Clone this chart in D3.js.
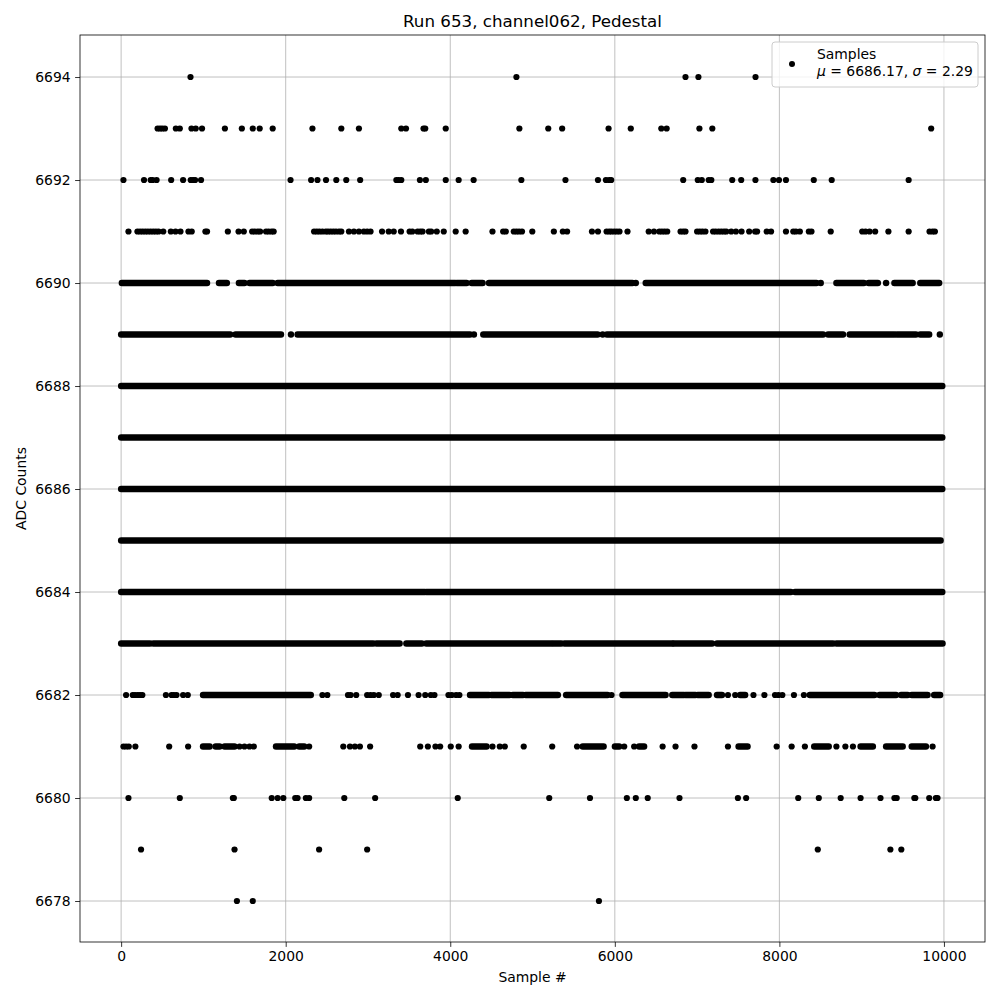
<!DOCTYPE html>
<html>
<head>
<meta charset="utf-8">
<script src="https://cdn.jsdelivr.net/npm/d3@7"></script>
<style>
  body { margin: 0; background: #fff; }
  text { font-family: "DejaVu Sans", sans-serif; fill: #000; }
</style>
</head>
<body>
<script>
// values
const xTicks = [0, 2000, 4000, 6000, 8000, 10000];
const yTicks = [6678, 6680, 6682, 6684, 6686, 6688, 6690, 6692, 6694];

// isolated samples per ADC level (sample #)
const dots6694 = [843, 4804, 6859, 7016, 7710];
const dots6693 = [443, 472, 500, 532, 665, 713, 855, 907, 983, 1261, 1467, 1600, 1684, 1842, 2325,
  2676, 2890, 3405, 3462, 3675, 3696, 3945, 4840, 5191, 5360, 5924, 6194, 6565, 6630, 7028, 7185, 9845];
const dots6692 = [28, 278, 359, 383, 431, 608, 753, 846, 874, 899, 971, 2059, 2309, 2386, 2490,
  2615, 2736, 2905, 3345, 3373, 3405, 3631, 3703, 3945, 4102, 4284, 4864,
  5400, 5795, 5892, 5932, 5956, 6831, 7008, 7057, 7141, 7173, 7427, 7536, 7709,
  7927, 7995, 8080, 8418, 8636, 9571];
const dots6691 = [89, 198, 230, 262, 294, 326, 359, 391, 423, 455, 512, 604, 661, 721, 818, 858, 1024, 1044,
  1297, 1427, 1491, 1592, 1624, 1660, 1689, 1761, 1793, 1829, 1854, 2345, 2378, 2410, 2446, 2487,
  2515, 2547, 2579, 2611, 2648, 2676, 2769, 2829, 2890, 2950, 2990, 3031, 3171, 3252, 3313, 3401,
  3506, 3539, 3603, 3635, 3663, 3740, 3768, 3836, 3921, 4066, 4187, 4513, 4643, 4675, 4772, 4804,
  4836, 4872, 4997, 5259, 5368, 5420, 5722, 5795, 5900, 5932, 5960, 5993, 6025, 6057, 6154, 6412,
  6476, 6541, 6573, 6605, 6637, 6799, 6831, 6859, 7000, 7033, 7065, 7101, 7194, 7226, 7262, 7294,
  7327, 7355, 7415, 7472, 7540, 7633, 7705, 7729, 7846, 7899, 8080, 8169, 8201, 8249, 8358, 8390,
  8624, 9007, 9047, 9096, 9164, 9325, 9571, 9825, 9862, 9890];
const dots6682 = [60, 141, 169, 202, 230, 258, 544, 613, 641, 673, 753, 810, 2446, 2506,
  2757, 2789, 2857, 2990, 3031, 3071, 3131, 3305, 3361, 3486, 3615, 3696, 3764, 3808, 3978, 4018,
  4071, 4111, 5960, 7375, 7463, 7685, 7818, 7947, 7988, 8036, 8177, 8298];
const dots6681 = [28, 60, 93, 173, 584, 814, 1439, 1499, 1560, 1612, 2285, 2700, 2781, 2841, 2902,
  3026, 3635, 3728, 3820, 3877, 4006, 4102, 4513, 4602, 4663, 4893, 5239, 5541, 6114, 6235, 6581,
  6738, 6968, 7375, 7967, 8149, 8310, 8693, 8802, 8894, 9862];
const dots6680 = [89, 713, 1358, 1370, 1830, 1902, 1971, 2116, 2144, 2245, 2285, 2712, 3087, 4091,
  5203, 5698, 6146, 6255, 6400, 6786, 7496, 7596, 8229, 8479, 8745, 8987, 9229, 9398, 9426,
  9640, 9652, 9821, 9902, 9922];
const dots6679 = [242, 1378, 2406, 2990, 8467, 9349, 9482];
const dots6678 = [1407, 1600, 5807];

// stretches where samples sit so close they merge into a band [first, last]
const runs6690 = [[8, 1044], [1189, 1285], [1431, 1499], [1560, 1842], [1902, 4058], [4078, 4199],
  [4260, 4393], [4470, 6214], [6255, 6255], [6375, 8451], [8503, 8503], [8693, 9027], [9084, 9197],
  [9297, 9297], [9398, 9620], [9712, 9942]];
const runs6689 = [[0, 1326], [1390, 1943], [2064, 2064], [2144, 4240], [4288, 4288], [4401, 5791],
  [5852, 5852], [5904, 8531], [8592, 8774], [8854, 9398], [9430, 9660], [9712, 9821], [9950, 9950]];
const runs6688 = [[0, 9980]];
const runs6687 = [[0, 9980]];
const runs6686 = [[0, 9980]];
const runs6685 = [[0, 9960]];
const runs6684 = [[0, 3690], [3710, 8140], [8190, 9980]];
const runs6683 = [[0, 351], [391, 3063], [3103, 3385], [3466, 3655], [3708, 5227], [5255, 5348],
  [5388, 6698], [6718, 7182], [7242, 8652], [8693, 9983]];
const runs6682 = [[995, 2305], [4240, 4470], [4500, 4720], [4760, 4884], [4917, 5308], [5408, 5912],
  [6093, 6617], [6698, 6839], [6859, 6980], [7008, 7141], [7242, 7302], [7524, 7584], [8370, 9156],
  [9216, 9418], [9479, 9559], [9608, 9801], [9881, 9954]];
const runs6681 = [[995, 1076], [1149, 1197], [1257, 1378], [1882, 2104], [2164, 2225], [4264, 4441],
  [5610, 5864], [6001, 6053], [6295, 6356], [7504, 7613], [8423, 8600], [8987, 9136], [9297, 9499],
  [9608, 9781]];

const dotTable = [
  [6694, dots6694], [6693, dots6693], [6692, dots6692], [6691, dots6691], [6682, dots6682],
  [6681, dots6681], [6680, dots6680], [6679, dots6679], [6678, dots6678]
].flatMap(([lvl, xs]) => xs.map(v => ({x: v, y: lvl})));

const runTable = [
  [6690, runs6690], [6689, runs6689], [6688, runs6688], [6687, runs6687], [6686, runs6686],
  [6685, runs6685], [6684, runs6684], [6683, runs6683], [6682, runs6682], [6681, runs6681]
].flatMap(([lvl, rs]) => rs.map(r => ({x0: r[0], x1: r[1], y: lvl})));

const W = 1000, H = 1000;
const mLeft = 80, mRight = 985, mTop = 35, mBottom = 942;

const svg = d3.select("body").append("svg")
  .attr("width", W).attr("height", H);

const x = d3.scaleLinear().domain([-500, 10499]).range([mLeft, mRight]);
const y = d3.scaleLinear().domain([6677.204, 6694.816]).range([mBottom, mTop]);

// grid
svg.append("g").selectAll("line").data(xTicks).enter().append("line")
  .attr("x1", d => x(d)).attr("x2", d => x(d))
  .attr("y1", mTop).attr("y2", mBottom)
  .attr("stroke", "#b0b0b0").attr("stroke-width", 0.8);
svg.append("g").selectAll("line").data(yTicks).enter().append("line")
  .attr("y1", d => y(d)).attr("y2", d => y(d))
  .attr("x1", mLeft).attr("x2", mRight)
  .attr("stroke", "#b0b0b0").attr("stroke-width", 0.8);

// samples
const plot = svg.append("g");
plot.selectAll("line.run").data(runTable).enter().append("line")
  .attr("class", "run")
  .attr("x1", d => x(d.x0)).attr("x2", d => x(d.x1))
  .attr("y1", d => y(d.y)).attr("y2", d => y(d.y))
  .attr("stroke", "#000").attr("stroke-width", 6.4).attr("stroke-linecap", "round");
plot.selectAll("circle").data(dotTable).enter().append("circle")
  .attr("cx", d => x(d.x)).attr("cy", d => y(d.y)).attr("r", 3.1)
  .attr("fill", "#000");

// axes
const xAxis = svg.append("g").attr("transform", `translate(0,${mBottom})`)
  .call(d3.axisBottom(x).tickValues(xTicks).tickSizeOuter(0).tickSize(4.9).tickPadding(4.5).tickFormat(d3.format("d")));
const yAxis = svg.append("g").attr("transform", `translate(${mLeft},0)`)
  .call(d3.axisLeft(y).tickValues(yTicks).tickSizeOuter(0).tickSize(4.9).tickPadding(4.5).tickFormat(d3.format("d")));
[xAxis, yAxis].forEach(g => {
  g.select(".domain").remove();
  g.selectAll("line").attr("stroke", "#000").attr("stroke-width", 0.8);
  g.selectAll("text").attr("font-size", "13.9px").attr("font-family", "DejaVu Sans");
});

svg.append("rect")
  .attr("x", mLeft).attr("y", mTop).attr("width", mRight - mLeft).attr("height", mBottom - mTop)
  .attr("fill", "none").attr("stroke", "#000").attr("stroke-width", 0.8);

// labels
svg.append("text").attr("x", (mLeft + mRight) / 2).attr("y", 27)
  .attr("text-anchor", "middle").attr("font-size", "16.7px")
  .text("Run 653, channel062, Pedestal");
svg.append("text").attr("x", (mLeft + mRight) / 2).attr("y", 982)
  .attr("text-anchor", "middle").attr("font-size", "13.9px")
  .text("Sample #");
svg.append("text").attr("transform", `translate(26,${(mTop + mBottom) / 2}) rotate(-90)`)
  .attr("text-anchor", "middle").attr("font-size", "13.9px")
  .text("ADC Counts");

// legend
const lg = svg.append("g");
lg.append("rect").attr("x", 772).attr("y", 42).attr("width", 206).attr("height", 45)
  .attr("rx", 3).attr("fill", "#fff").attr("fill-opacity", 0.8)
  .attr("stroke", "#cccccc").attr("stroke-width", 1);
lg.append("circle").attr("cx", 792).attr("cy", 64).attr("r", 3).attr("fill", "#000");
lg.append("text").attr("x", 817).attr("y", 59).attr("font-size", "13.9px").text("Samples");
const t2 = lg.append("text").attr("x", 817).attr("y", 76).attr("font-size", "13.9px");
t2.append("tspan").attr("font-style", "italic").text("μ");
t2.append("tspan").text(" = 6686.17, ");
t2.append("tspan").attr("font-style", "italic").text("σ");
t2.append("tspan").text(" = 2.29");
</script>
</body>
</html>
